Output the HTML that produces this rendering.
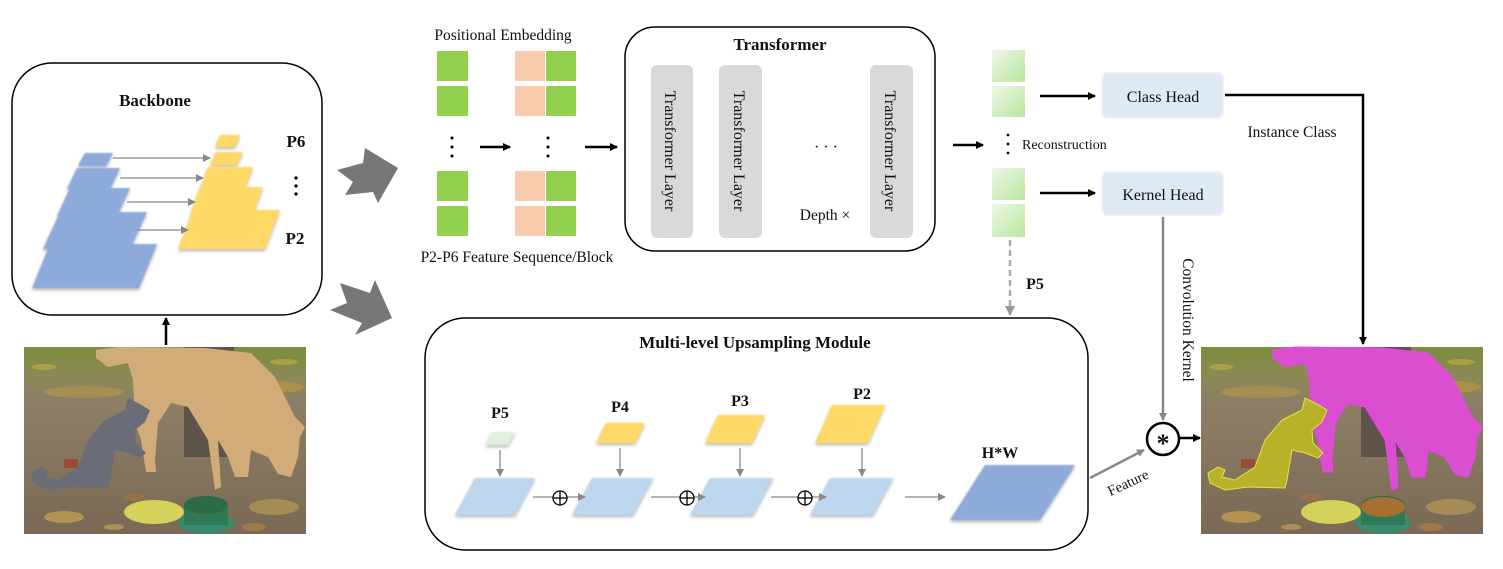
<!DOCTYPE html>
<html><head><meta charset="utf-8"><style>
html,body{margin:0;padding:0;background:#fff;}
svg{display:block;}
text{font-family:"Liberation Serif",serif;fill:#111;}
.b{font-weight:bold;}
</style></head><body>
<svg width="1503" height="569" viewBox="0 0 1503 569" xmlns="http://www.w3.org/2000/svg">
<defs>
<filter id="bl" x="-20%" y="-20%" width="140%" height="160%"><feGaussianBlur in="SourceAlpha" stdDeviation="1.5" result="s"/><feOffset dy="2" in="s" result="o"/><feFlood flood-color="#666" flood-opacity="0.5"/><feComposite in2="o" operator="in" result="sh"/><feGaussianBlur in="SourceGraphic" stdDeviation="0.8" result="g"/><feMerge><feMergeNode in="sh"/><feMergeNode in="g"/></feMerge></filter>
<marker id="ab" markerWidth="8" markerHeight="8" refX="7" refY="4" orient="auto" markerUnits="userSpaceOnUse"><path d="M0,0 L8,4 L0,8 Z" fill="#000"/></marker>
<marker id="ag" markerWidth="8" markerHeight="8" refX="7" refY="4" orient="auto" markerUnits="userSpaceOnUse"><path d="M0,0 L8,4 L0,8 Z" fill="#888"/></marker>
<marker id="ag2" markerWidth="10" markerHeight="10" refX="9" refY="5" orient="auto" markerUnits="userSpaceOnUse"><path d="M0,0 L10,5 L0,10 Z" fill="#999"/></marker>
<linearGradient id="gg" x1="0" y1="0" x2="1" y2="1"><stop offset="0" stop-color="#eef8e6"/><stop offset="1" stop-color="#b8e6a0"/></linearGradient>
<linearGradient id="dirt" x1="0" y1="0" x2="0" y2="1"><stop offset="0" stop-color="#7d8c3c"/><stop offset="0.15" stop-color="#8a8a55"/><stop offset="0.3" stop-color="#8d7e66"/><stop offset="1" stop-color="#7a6a55"/></linearGradient>
<g id="photo">
<rect x="0" y="0" width="282" height="187" fill="url(#dirt)"/>
<rect x="160" y="0" width="50" height="110" fill="#5e544a"/>
<ellipse cx="60" cy="45" rx="40" ry="6" fill="#b7944a" opacity=".6"/>
<ellipse cx="250" cy="40" rx="30" ry="6" fill="#c09a40" opacity=".6"/>
<ellipse cx="20" cy="20" rx="12" ry="3" fill="#c8b040" opacity=".6"/>
<ellipse cx="260" cy="15" rx="14" ry="3" fill="#c8b040" opacity=".6"/>
<ellipse cx="110" cy="150" rx="10" ry="4" fill="#a07040" opacity=".7"/>
<ellipse cx="230" cy="180" rx="12" ry="4" fill="#b08040" opacity=".7"/>
<ellipse cx="90" cy="180" rx="10" ry="3" fill="#c0a050" opacity=".7"/>
<ellipse cx="130" cy="165" rx="30" ry="12" fill="#d4d25a"/>
<ellipse cx="40" cy="170" rx="20" ry="6" fill="#c9a24a" opacity=".7"/>
<ellipse cx="250" cy="160" rx="25" ry="8" fill="#b89a55" opacity=".7"/>
<rect x="40" y="112" width="14" height="9" fill="#9a4a35"/>
<ellipse cx="182" cy="176" rx="28" ry="11" fill="#3a8a70"/>
<rect x="160" y="158" width="44" height="20" fill="#2f7a55"/>
<ellipse cx="182" cy="158" rx="22" ry="9" fill="#2c6a48"/>
</g>
</defs>

<!-- Backbone -->
<rect x="12" y="63" width="310" height="252" rx="40" fill="none" stroke="#000" stroke-width="1.5"/>
<text x="155" y="106" font-size="17" class="b" text-anchor="middle">Backbone</text>
<g filter="url(#bl)" fill="#8eaadb">
<polygon points="50,244 157,244 139,288 32,288"/>
<polygon points="60,212 147,212 130,249 43,249"/>
<polygon points="70,188 130,188 117,216 57,216"/>
<polygon points="77,168 120,168 110,189 67,189"/>
<polygon points="85,153 113,153 106,166 78,166"/>
</g>
<g filter="url(#bl)" fill="#ffd966">
<polygon points="193,210 280,210 265,249 178,249"/>
<polygon points="200,187 263,187 253,214 190,214"/>
<polygon points="208,167 253,167 245,188 200,188"/>
<polygon points="216,152 243,152 237,165 210,165"/>
<polygon points="220,135 240,135 235,147 215,147"/>
</g>
<g stroke="#888" stroke-width="1.3" marker-end="url(#ag)">
<line x1="113" y1="158" x2="210" y2="158"/>
<line x1="120" y1="178" x2="203" y2="178"/>
<line x1="127" y1="202" x2="195" y2="202"/>
<line x1="137" y1="230" x2="188" y2="230"/>
</g>
<text x="296" y="147" font-size="17" class="b" text-anchor="middle">P6</text>
<circle cx="296" cy="178" r="1.6" fill="#000"/><circle cx="296" cy="186" r="1.6" fill="#000"/><circle cx="296" cy="194" r="1.6" fill="#000"/>
<text x="295" y="244" font-size="17" class="b" text-anchor="middle">P2</text>

<!-- big gray arrows -->
<polygon points="337,170 363,163 365,148 398,168 378,203 373,192 345,195 353,182" fill="#777"/>
<polygon points="330,310 347,303 340,283 370,293 375,280 392,318 355,335 362,323" fill="#777"/>

<!-- left photo -->
<use href="#photo" x="24" y="347"/>
<g transform="translate(24,347)">
<polygon points="72,3 94,0 181,1 227,6 251,30 271,70 281,80 276,90 274,110 267,130 254,127 244,110 227,103 224,130 211,130 204,110 194,93 197,140 191,143 184,93 164,60 147,56 134,76 131,113 132,125 122,125 117,93 111,76 109,33 104,16 84,20 72,11" fill="#d2ac78"/>
<polygon points="104,51 114,56 126,63 121,75 111,83 112,96 122,106 117,111 104,106 91,103 86,133 84,141 47,140 24,143 9,136 7,126 17,120 24,123 21,130 34,133 54,120 64,93 81,73 101,63" fill="#6a6c78"/>
</g>
<line x1="166" y1="345" x2="166" y2="318" stroke="#000" stroke-width="2.5" marker-end="url(#ab)"/>

<!-- sequences -->
<text x="503" y="40" font-size="15.5" text-anchor="middle">Positional Embedding</text>
<g fill="#92d050">
<rect x="437" y="51" width="31" height="30"/><rect x="437" y="86" width="31" height="30"/>
<rect x="437" y="171" width="31" height="30"/><rect x="437" y="206" width="31" height="30"/>
<rect x="546" y="51" width="30" height="30"/><rect x="546" y="86" width="30" height="30"/>
<rect x="546" y="171" width="30" height="30"/><rect x="546" y="206" width="30" height="30"/>
</g>
<g fill="#f8cbad">
<rect x="515" y="51" width="30" height="30"/><rect x="515" y="86" width="30" height="30"/>
<rect x="515" y="171" width="30" height="30"/><rect x="515" y="206" width="30" height="30"/>
</g>
<g fill="#000">
<circle cx="452" cy="138" r="1.5"/><circle cx="452" cy="147" r="1.5"/><circle cx="452" cy="156" r="1.5"/>
<circle cx="548" cy="138" r="1.5"/><circle cx="548" cy="147" r="1.5"/><circle cx="548" cy="156" r="1.5"/>
</g>
<line x1="480" y1="147" x2="510" y2="147" stroke="#000" stroke-width="2.5" marker-end="url(#ab)"/>
<line x1="585" y1="147" x2="617" y2="147" stroke="#000" stroke-width="2.5" marker-end="url(#ab)"/>
<text x="517" y="262" font-size="15.5" text-anchor="middle">P2-P6 Feature Sequence/Block</text>

<!-- Transformer -->
<rect x="625" y="27" width="310" height="224" rx="30" fill="none" stroke="#000" stroke-width="1.5"/>
<text x="780" y="50" font-size="17" class="b" text-anchor="middle">Transformer</text>
<g fill="#d9d9d9">
<rect x="651" y="65" width="42" height="173" rx="6"/>
<rect x="719" y="65" width="43" height="173" rx="6"/>
<rect x="870" y="65" width="43" height="173" rx="6"/>
</g>
<g font-size="16">
<text transform="translate(665,151) rotate(90)" text-anchor="middle">Transformer Layer</text>
<text transform="translate(734,151) rotate(90)" text-anchor="middle">Transformer Layer</text>
<text transform="translate(885,151) rotate(90)" text-anchor="middle">Transformer Layer</text>
</g>
<text x="826" y="152" font-size="16" text-anchor="middle">· · ·</text>
<text x="825" y="220" font-size="15.5" text-anchor="middle">Depth ×</text>

<!-- reconstruction -->
<line x1="953" y1="145" x2="983" y2="145" stroke="#000" stroke-width="2.5" marker-end="url(#ab)"/>
<g fill="url(#gg)">
<rect x="992" y="50" width="33" height="32"/><rect x="992" y="86" width="33" height="31"/>
<rect x="992" y="168" width="33" height="32"/><rect x="992" y="204" width="33" height="33"/>
</g>
<g fill="#000"><circle cx="1008" cy="135" r="1.4"/><circle cx="1008" cy="144" r="1.4"/><circle cx="1008" cy="153" r="1.4"/></g>
<text x="1022" y="149" font-size="14">Reconstruction</text>
<line x1="1040" y1="96" x2="1095" y2="96" stroke="#000" stroke-width="2.5" marker-end="url(#ab)"/>
<line x1="1040" y1="193" x2="1095" y2="193" stroke="#000" stroke-width="2.5" marker-end="url(#ab)"/>
<rect x="1102" y="73" width="121" height="45" rx="5" fill="#dde9f5" stroke="#eef3f9" stroke-width="2"/>
<text x="1163" y="102" font-size="16" text-anchor="middle">Class Head</text>
<rect x="1102" y="172" width="121" height="43" rx="5" fill="#dde9f5" stroke="#eef3f9" stroke-width="2"/>
<text x="1163" y="200" font-size="16" text-anchor="middle">Kernel Head</text>
<polyline points="1225,95 1363,95 1363,344" fill="none" stroke="#000" stroke-width="2.5" marker-end="url(#ab)"/>
<text x="1292" y="137" font-size="15.5" text-anchor="middle">Instance Class</text>
<line x1="1163" y1="217" x2="1163" y2="420" stroke="#888" stroke-width="2.5" marker-end="url(#ag)"/>
<text transform="translate(1183,320) rotate(90)" font-size="15.5" text-anchor="middle">Convolution Kernel</text>
<circle cx="1163" cy="439" r="16" fill="#fff" stroke="#000" stroke-width="2.5"/>
<text x="1163" y="452" font-size="26" text-anchor="middle" class="b">*</text>
<line x1="1180" y1="438" x2="1200" y2="438" stroke="#000" stroke-width="2.5" marker-end="url(#ab)"/>
<line x1="1090" y1="478" x2="1144" y2="450" stroke="#888" stroke-width="2.5" marker-end="url(#ag)"/>
<text transform="translate(1130,487) rotate(-25)" font-size="14.5" text-anchor="middle">Feature</text>
<line x1="1010" y1="240" x2="1010" y2="315" stroke="#aaa" stroke-width="2.5" stroke-dasharray="6,4" marker-end="url(#ag2)"/>
<text x="1035" y="289" font-size="16" class="b" text-anchor="middle">P5</text>

<!-- Multi-level -->
<rect x="425" y="318" width="663" height="232" rx="40" fill="none" stroke="#000" stroke-width="1.5"/>
<text x="755" y="348" font-size="17" class="b" text-anchor="middle">Multi-level Upsampling Module</text>
<g font-size="16" class="b" text-anchor="middle">
<text x="500" y="418">P5</text><text x="620" y="412">P4</text><text x="740" y="406">P3</text><text x="862" y="399">P2</text><text x="1000" y="458">H*W</text>
</g>
<g filter="url(#bl)">
<polygon points="492,432 515,432 508,445 485,445" fill="#e2efda"/>
<polygon points="606,423 645,423 635,443 596,443" fill="#ffd966"/>
<polygon points="718,415 765,415 752,443 705,443" fill="#ffd966"/>
<polygon points="832,405 885,405 868,443 815,443" fill="#ffd966"/>
<polygon points="475,478 535,478 515,515 455,515" fill="#bdd7ee"/>
<polygon points="592,478 653,478 633,515 572,515" fill="#bdd7ee"/>
<polygon points="710,478 773,478 753,515 690,515" fill="#bdd7ee"/>
<polygon points="830,478 893,478 873,515 810,515" fill="#bdd7ee"/>
<polygon points="985,465 1075,465 1040,520 950,520" fill="#8eaadb"/>
</g>
<g stroke="#888" stroke-width="1.3" marker-end="url(#ag)">
<line x1="500" y1="450" x2="500" y2="476"/>
<line x1="620" y1="448" x2="620" y2="476"/>
<line x1="740" y1="448" x2="740" y2="476"/>
<line x1="862" y1="448" x2="862" y2="476"/>
<line x1="533" y1="497" x2="585" y2="497"/>
<line x1="651" y1="497" x2="705" y2="497"/>
<line x1="771" y1="497" x2="826" y2="497"/>
<line x1="905" y1="497" x2="945" y2="497"/>
</g>
<g fill="#fff" stroke="#000" stroke-width="1.3">
<circle cx="560" cy="498" r="7"/><circle cx="687" cy="498" r="7"/><circle cx="805" cy="498" r="7"/>
</g>
<g stroke="#000" stroke-width="1.3">
<line x1="553" y1="498" x2="567" y2="498"/><line x1="560" y1="491" x2="560" y2="505"/>
<line x1="680" y1="498" x2="694" y2="498"/><line x1="687" y1="491" x2="687" y2="505"/>
<line x1="798" y1="498" x2="812" y2="498"/><line x1="805" y1="491" x2="805" y2="505"/>
</g>

<!-- right photo -->
<use href="#photo" x="1201" y="347"/>
<g transform="translate(1201,347)">
<polygon points="72,3 94,0 181,1 227,6 251,30 271,70 281,80 276,90 274,110 267,130 254,127 244,110 227,103 224,130 211,130 204,110 194,93 197,140 191,143 184,93 164,60 147,56 134,76 131,113 132,125 122,125 117,93 111,76 109,33 104,16 84,20 72,11" fill="#d94fd0" stroke="#f040f0" stroke-width="1"/>
<polygon points="104,51 114,56 126,63 121,75 111,83 112,96 122,106 117,111 104,106 91,103 86,133 84,141 47,140 24,143 9,136 7,126 17,120 24,123 21,130 34,133 54,120 64,93 81,73 101,63" fill="#b8b22a" stroke="#e8e040" stroke-width="1"/>
<ellipse cx="182" cy="160" rx="22" ry="10" fill="#a86f30"/>
</g>
</svg>
</body></html>
